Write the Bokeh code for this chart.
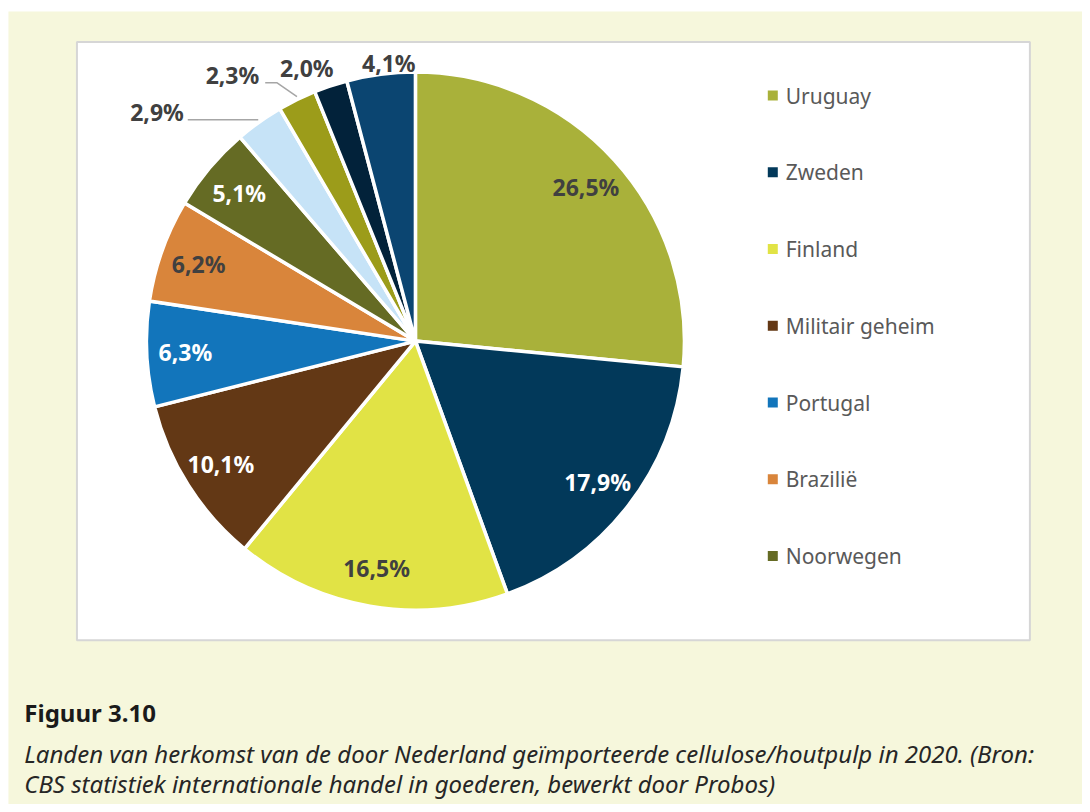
import math
from bokeh.plotting import figure
from bokeh.models import Range1d, ColumnDataSource
from bokeh.embed import file_html
from bokeh.resources import INLINE
from bokeh.core.properties import value

# ---------------- data ----------------
legend_countries = ["Uruguay", "Zweden", "Finland", "Militair geheim",
                    "Portugal", "Brazilië", "Noorwegen"]
shares = [26.5, 17.9, 16.5, 10.1, 6.3, 6.2, 5.1, 2.9, 2.3, 2.0, 4.1]
slice_colors = ["#a9b13a", "#02395a", "#e1e345", "#633815", "#1275bb",
                "#d9853b", "#656b24", "#c6e3f7", "#9c9c1a", "#02223a", "#0b4571"]
label_colors = ["#404040", "#ffffff", "#404040", "#ffffff", "#ffffff",
                "#404040", "#ffffff", "#404040", "#404040", "#404040", "#404040"]
title_text = "Figuur 3.10"
caption_lines = [
    "Landen van herkomst van de door Nederland geïmporteerde cellulose/houtpulp in 2020. (Bron:",
    "CBS statistiek internationale handel in goederen, bewerkt door Probos)",
]

# ---------------- layout ----------------
FONT = "Noto Sans"
CX, CY, R = 418, 344, 271          # reference-frame pixel coords
LABEL_R = 232
# offsets of outside labels relative to the slice edge point
outside_offsets = {7: (-76, -11, "right"), 8: (-38, -25.5, "right"),
                   9: (-24, -19, "center"), 10: (8, -12, "center")}
leaders = {7: [(-1, -3), (-72, -3)], 8: [(0, -3.5), (-20, -17.5), (-32, -17.5)]}

p = figure(width=1082, height=804, x_range=Range1d(0, 1090), y_range=Range1d(-812, 0),
           min_border=0, toolbar_location=None, output_backend="svg")
p.axis.visible = False
p.grid.visible = False
p.outline_line_color = None
p.background_fill_color = "white"
p.border_fill_color = "white"

# panels
p.quad(left=[8], right=[1090], top=[-11], bottom=[-812], fill_color="#f6f7dc", line_color=None)
p.quad(left=[77], right=[1037], top=[-42], bottom=[-646], fill_color="white",
       line_color="#d6d6d6", line_width=2)

# pie
total = sum(shares)
starts, ends, mids = [], [], []
cum = 0.0
for v in shares:
    f0 = cum / total
    cum += v
    f1 = cum / total
    starts.append(math.pi / 2 - 2 * math.pi * f0)
    ends.append(math.pi / 2 - 2 * math.pi * f1)
    mids.append((f0 + f1) / 2)

src = ColumnDataSource(dict(x=[CX] * len(shares), y=[-CY] * len(shares),
                            start=starts, end=ends, color=slice_colors))
p.wedge(x="x", y="y", radius=R, start_angle="start", end_angle="end", direction="clock",
        fill_color="color", line_color="white", line_width=3.5, source=src)

# labels
lab_x, lab_y, lab_t, lab_c, lab_a = [], [], [], [], []
for i, v in enumerate(shares):
    ang = 2 * math.pi * mids[i]  # clockwise from top
    txt = f"{v:.1f}".replace(".", ",") + "%"
    if i in outside_offsets:
        ex = CX + R * math.sin(ang)
        ey = CY - R * math.cos(ang)
        dx, dy, al = outside_offsets[i]
        x, y = ex + dx, ey + dy
        if i in leaders:
            pts = leaders[i]
            p.line([ex + a for a, b in pts], [-(ey + b) for a, b in pts],
                   line_color="#a6a6a6", line_width=1.5)
    else:
        x = CX + LABEL_R * math.sin(ang)
        y = CY - LABEL_R * math.cos(ang)
        al = "center"
    lab_x.append(x); lab_y.append(-y); lab_t.append(txt); lab_c.append(label_colors[i]); lab_a.append(al)

p.text(x=lab_x, y=lab_y, text=lab_t, text_color=lab_c, text_align=lab_a,
       text_baseline="middle", text_font=value(FONT), text_font_style="bold",
       text_font_size="23px")

# legend
ly = [96 + 77.5 * k for k in range(len(legend_countries))]
p.scatter(x=[778] * len(ly), y=[-v for v in ly], marker="square", size=10,
          fill_color=slice_colors[:len(legend_countries)], line_color=None)
p.text(x=[791] * len(ly), y=[-v for v in ly], text=legend_countries, text_color="#595959",
       text_baseline="middle", text_font=value(FONT), text_font_size="21px")

# caption
p.text(x=[24], y=[-719], text=[title_text], text_color="#1a1a1a", text_baseline="alphabetic",
       text_font=value(FONT), text_font_style="bold", text_font_size="24px")
p.text(x=[24, 24], y=[-760, -791], text=caption_lines, text_color="#262626",
       text_baseline="alphabetic", text_font=value(FONT), text_font_style="italic",
       text_font_size="24px")

open("out.html", "w").write(file_html(p, INLINE))
